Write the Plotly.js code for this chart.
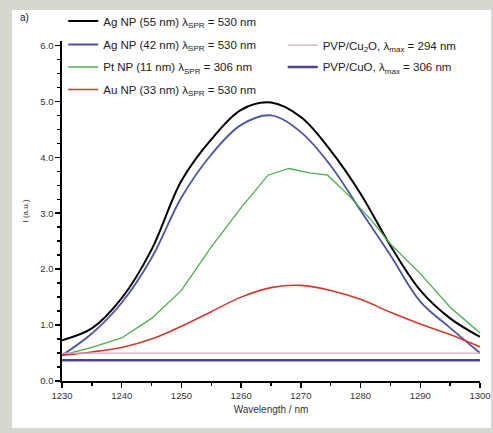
<!DOCTYPE html>
<html>
<head>
<meta charset="utf-8">
<script src="https://cdn.plot.ly/plotly-3.0.1.min.js"></script>
<style>
  html, body { margin:0; padding:0; background:#d7d7d0; width:493px; height:433px; overflow:hidden; }
  #chart { position:absolute; left:12px; top:10px; width:479px; height:418px; background:#ffffff; }
</style>
</head>
<body>
<div id="chart"></div>
<script>
// ---- data ----
const wavelength = [1230,1235,1240,1245,1250,1255,1260,1265,1270,1275,1280,1285,1290,1295,1300];
const agNP55   = [0.73,0.94,1.48,2.35,3.58,4.32,4.85,4.98,4.72,4.12,3.35,2.42,1.62,1.12,0.79];
const agNP42   = [0.46,0.85,1.40,2.20,3.28,4.05,4.58,4.75,4.45,3.85,3.05,2.25,1.42,0.95,0.50];
const greenWavelength = [1230,1235,1240,1245,1250,1255,1260,1264.5,1268,1271.5,1274.5,1278,1282,1285,1290,1295,1300];
const ptNP     = [0.46,0.60,0.77,1.12,1.62,2.40,3.10,3.68,3.80,3.72,3.68,3.32,2.85,2.45,1.92,1.32,0.86];
const auNP     = [0.46,0.52,0.60,0.75,0.98,1.24,1.50,1.67,1.71,1.62,1.46,1.23,1.02,0.83,0.61];
const pvpCu2O  = [0.50,0.50,0.50,0.50,0.50,0.50,0.51,0.51,0.50,0.50,0.51,0.50,0.50,0.51,0.50];
const pvpCuO   = [0.37,0.37,0.37,0.37,0.37,0.37,0.37,0.37,0.37,0.37,0.37,0.37,0.37,0.37,0.37];

const names = [
  'Ag NP (55 nm) λ<sub>SPR</sub> = 530 nm',
  'Ag NP (42 nm) λ<sub>SPR</sub> = 530 nm',
  'Pt NP (11 nm) λ<sub>SPR</sub> = 306 nm',
  'Au NP (33 nm) λ<sub>SPR</sub> = 530 nm',
  'PVP/Cu<sub>2</sub>O, λ<sub>max</sub> = 294 nm',
  'PVP/CuO, λ<sub>max</sub> = 306 nm'
];
const xTickVals = [1230,1240,1250,1260,1270,1280,1290,1300];
const yTickVals = [0,1,2,3,4,5,6];

const traces = [
  {x: wavelength, y: agNP55, name: names[0], mode:'lines', line:{color:'#000000', width:2, shape:'spline'}, legend:'legend'},
  {x: wavelength, y: agNP42, name: names[1], mode:'lines', line:{color:'#4a55a6', width:1.8, shape:'spline'}, legend:'legend2'},
  {x: greenWavelength, y: ptNP, name: names[2], mode:'lines', line:{color:'#4cae4c', width:1.3}, legend:'legend3'},
  {x: wavelength, y: auNP, name: names[3], mode:'lines', line:{color:'#d0392b', width:1.6, shape:'spline'}, legend:'legend4'},
  {x: wavelength, y: pvpCu2O, name: names[4], mode:'lines', line:{color:'#d8a9c4', width:1.3}, legend:'legend5'},
  {x: wavelength, y: pvpCuO, name: names[5], mode:'lines', line:{color:'#4e4590', width:2.5}, legend:'legend6'}
];

const fam = 'Liberation Sans, Arial, sans-serif';
function leg(x, y) {
  return {x:x, xanchor:'left', y:y, yanchor:'top', bgcolor:'rgba(0,0,0,0)',
          font:{family:fam, size:11.5, color:'#222'}, itemwidth:30, tracegroupgap:0};
}

const layout = {
  width: 479, height: 418,
  margin: {l:50, r:11, t:30.5, b:47, autoexpand:false},
  paper_bgcolor:'#ffffff', plot_bgcolor:'#ffffff',
  font: {family:fam, color:'#222222', size:10},
  showlegend: true,
  legend:  leg(0.003, 1.1013),
  legend2: leg(0.003, 1.0323),
  legend3: leg(0.003, 0.9662),
  legend4: leg(0.003, 0.9001),
  legend5: leg(0.528, 1.0308),
  legend6: leg(0.528, 0.9662),
  xaxis: {
    range:[1230,1300], tickvals:xTickVals, ticktext:xTickVals.map(String),
    showline:true, linecolor:'#000', linewidth:1.6, mirror:false,
    ticks:'outside', ticklen:5, tickwidth:1.5, tickcolor:'#000',
    minor:{dtick:5, tick0:1230, ticks:'outside', ticklen:3, tickwidth:1.5, tickcolor:'#000'},
    showgrid:false, zeroline:false,
    tickfont:{size:9.5, color:'#333'},
    title:{text:'Wavelength / nm', font:{size:10, color:'#333'}, standoff:6}
  },
  yaxis: {
    range:[0,6.08], tickvals:yTickVals, ticktext:yTickVals.map(v=>v.toFixed(1)),
    showline:true, linecolor:'#000', linewidth:1.6, mirror:false,
    ticks:'outside', ticklen:5, tickwidth:1.5, tickcolor:'#000',
    minor:{dtick:0.25, tick0:0, ticks:'outside', ticklen:3, tickwidth:1.5, tickcolor:'#000'},
    showgrid:false, zeroline:false,
    tickfont:{size:9.5, color:'#333'},
    title:{text:'I (a.u.)', font:{size:8, color:'#333'}, standoff:10}
  },
  annotations: [
    {text:'a)', xref:'paper', yref:'paper', x:-0.105, y:1.069, xanchor:'left', yanchor:'middle',
     showarrow:false, font:{size:10, color:'#222'}}
  ]
};

Plotly.newPlot('chart', traces, layout, {displayModeBar:false, staticPlot:true});
</script>
</body>
</html>
